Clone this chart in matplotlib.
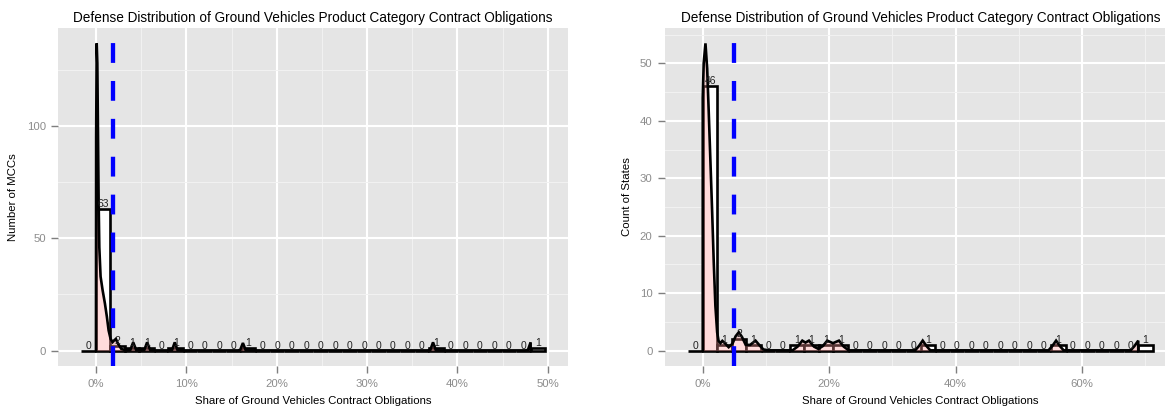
import numpy as np
import matplotlib
matplotlib.use('Agg')
import matplotlib.pyplot as plt

plt.rcParams['font.family'] = ['Liberation Sans', 'DejaVu Sans']

title = "Defense Distribution of Ground Vehicles Product Category Contract Obligations"
xlabel = "Share of Ground Vehicles Contract Obligations"

# ---- Left panel: MCCs ----
mcc_counts = [0, 63, 2, 1, 1, 0, 1, 0, 0, 0, 0, 1, 0, 0, 0, 0, 0, 0, 0, 0, 0, 0,
              0, 0, 1, 0, 0, 0, 0, 0, 0, 1]
mcc_max_share = 48.1          # percent, largest observation
mcc_ref_line = 1.9            # percent, dashed blue line
mcc_dens_x = [0.0, 0.02, 0.08, 0.15, 0.22, 0.29, 0.37, 0.51, 0.73, 0.99, 1.21, 1.40,
              1.62, 1.84, 2.0, 2.2, 2.45, 2.8, 3.3, 3.8, 4.12, 4.45, 5.0, 5.35, 5.66,
              6.0, 6.6, 8.0, 8.42, 8.72, 9.02, 9.6, 15.7, 15.96, 16.26, 16.56, 16.9,
              36.7, 37.0, 37.3, 37.6, 37.9, 47.5, 47.8, 48.1, 48.1]
mcc_dens_y = [0, 95, 136.8, 128, 98, 68, 46, 33, 27, 21, 15, 9, 5.2, 3.8, 4.5, 5.2,
              3.0, 0.8, 0.15, 0.3, 3.7, 0.3, 0.15, 0.3, 3.7, 0.3, 0.1, 0.1, 0.3, 3.7,
              0.3, 0.1, 0.1, 0.3, 3.4, 0.3, 0.1, 0.1, 0.3, 3.7, 0.3, 0.1, 0.1, 0.3,
              3.7, 0]

# ---- Right panel: States ----
state_counts = [0, 46, 1, 2, 1, 0, 0, 1, 1, 1, 1, 0, 0, 0, 0, 0, 1, 0, 0, 0, 0, 0,
                0, 0, 0, 1, 0, 0, 0, 0, 0, 1]
state_max_share = 68.9
state_ref_line = 4.95
state_dens_x = [0.0, 0.0, 0.15, 0.43, 0.7, 0.95, 1.22, 1.49, 1.74, 2.0, 2.28, 2.5,
                2.8, 3.1, 3.5, 4.1, 4.7, 5.2, 5.7, 6.2, 6.8, 7.5, 8.35, 9.0, 9.6,
                10.5, 14.2, 15.0, 15.75, 16.25, 16.8, 17.6, 18.3, 19.0, 19.7, 20.6,
                21.55, 22.3, 23.1, 33.6, 34.2, 34.8, 35.4, 36.0, 54.7, 55.3, 55.9,
                56.5, 57.1, 67.7, 68.3, 68.9, 68.9]
state_dens_y = [0, 44, 50, 53.5, 49.1, 41.5, 32.8, 24.1, 15.4, 7.8, 3.2, 1.7,
                1.3, 1.7, 1.3, 0.6, 1.2, 2.5, 3.2, 2.4, 1.0, 1.0, 1.74, 0.9, 0.2,
                0.05, 0.05, 0.7, 1.74, 1.4, 1.74, 0.7, 0.3, 0.8, 1.74, 1.3,
                1.74, 0.7, 0.05, 0.05, 0.8, 1.74, 0.8, 0.05, 0.05, 0.8, 1.74,
                0.8, 0.05, 0.05, 0.8, 1.74, 0]

W, H = 1165, 412
fig = plt.figure(figsize=(W / 100, H / 100), dpi=100)
top_px, bot_px = 28, 366
ax1 = fig.add_axes([58.3 / W, (H - bot_px) / H, 510 / W, (bot_px - top_px) / H])
ax2 = fig.add_axes([665 / W, (H - bot_px) / H, 511 / W, (bot_px - top_px) / H])


def pct(v, _pos=None):
    return f"{v:.0f}%"


def draw(ax, counts, max_share, dx, dy, vline, xmaj, xmin, ymaj, ymin):
    ax.set_facecolor('#E5E5E5')
    for s in ax.spines.values():
        s.set_visible(False)
    w = max_share / 30.0
    n = len(counts)
    centers = (np.arange(n) - 0.5) * w
    ax.bar(centers, counts, width=w, color='white', edgecolor='black', lw=1.9, zorder=2)
    ax.fill_between(dx, dy, 0, color='#FF9999', alpha=0.35, lw=0, zorder=3)
    ax.plot(dx, dy, color='black', lw=1.9, zorder=4, solid_joinstyle='miter')
    for c, k in zip(centers, counts):
        ax.text(c, k, str(k), ha='center', va='bottom', fontsize=7.5,
                color='#222222', zorder=5)
    ax.axvline(vline, color='#0000FF', lw=3.1, ls=(0, (4.6, 4.2)), zorder=6)
    lo, hi = -w, (n - 1) * w
    span = hi - lo
    ax.set_xlim(lo - 0.05 * span, hi + 0.05 * span)
    ymax = max(dy)
    ax.set_ylim(-0.05 * ymax, 1.05 * ymax)
    ax.set_xticks(xmaj)
    ax.set_xticks(xmin, minor=True)
    ax.set_yticks(ymaj)
    ax.set_yticks(ymin, minor=True)
    ax.xaxis.set_major_formatter(pct)
    ax.grid(which='major', color='white', lw=1.5)
    ax.grid(which='minor', color='#F2F2F2', lw=0.7)
    ax.set_axisbelow(True)
    ax.tick_params(which='major', direction='out', length=5, width=1.0,
                   color='#7F7F7F', labelcolor='#8C8C8C', labelsize=8.2)
    ax.tick_params(axis='x', which='major', pad=4.5)
    ax.tick_params(axis='y', which='major', pad=4)
    ax.tick_params(which='minor', length=0)


draw(ax1, mcc_counts, mcc_max_share, mcc_dens_x, mcc_dens_y, mcc_ref_line,
     [0, 10, 20, 30, 40, 50], [5, 15, 25, 35, 45], [0, 50, 100], [25, 75, 125])
draw(ax2, state_counts, state_max_share, state_dens_x, state_dens_y, state_ref_line,
     [0, 20, 40, 60], [10, 30, 50, 70], [0, 10, 20, 30, 40, 50],
     [5, 15, 25, 35, 45, 55])

for cx in (313.2, 920.5):
    fig.text(cx / W, 1 - 18 / H, title, ha='center', va='center', fontsize=9.8)
    fig.text(cx / W, 1 - 401 / H, xlabel, ha='center', va='center', fontsize=8.2)
ymid = 1 - (top_px + bot_px) / 2 / H
fig.text(13 / W, ymid, "Number of MCCs", rotation=90, ha='center', va='center', fontsize=8.2)
fig.text(626.7 / W, ymid, "Count of States", rotation=90, ha='center', va='center', fontsize=8.2)

fig.savefig('out.png', dpi=100)
